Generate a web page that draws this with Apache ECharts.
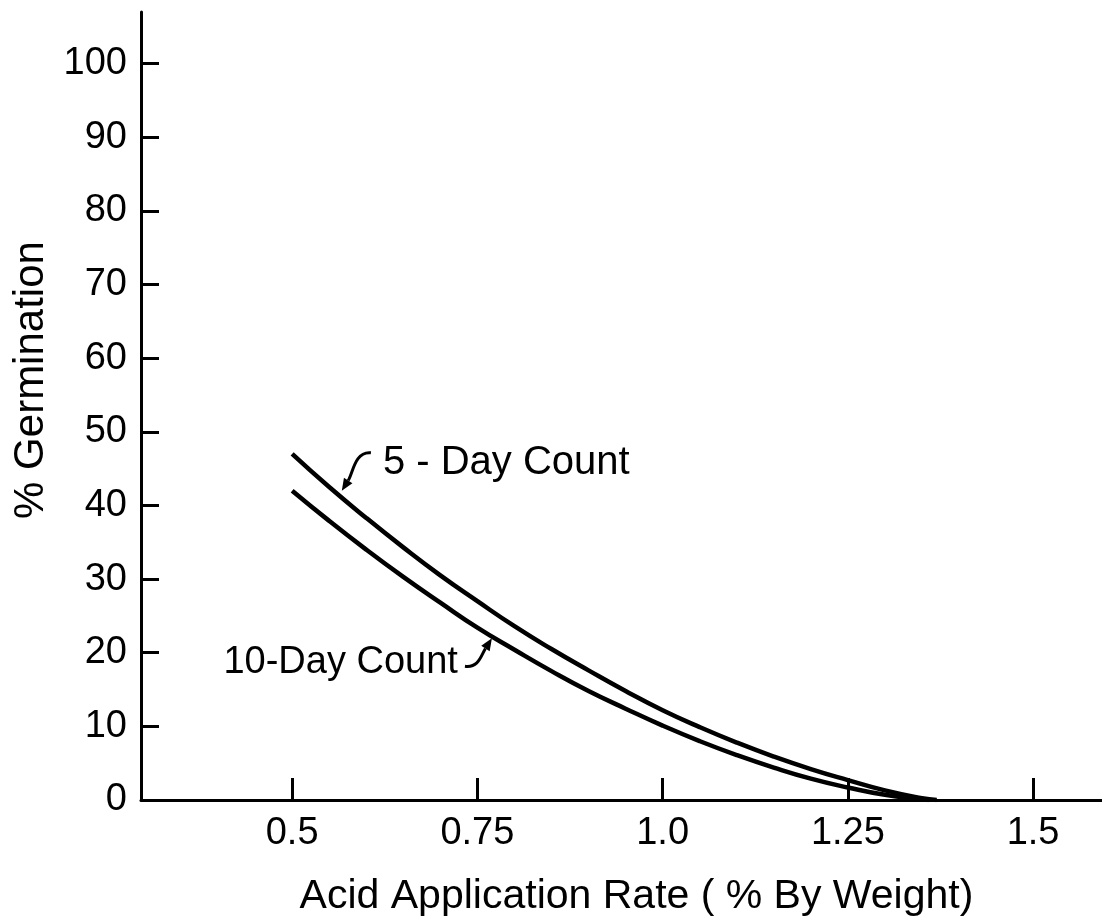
<!DOCTYPE html>
<html>
<head>
<meta charset="utf-8">
<script src="https://cdn.jsdelivr.net/npm/echarts@6/dist/echarts.min.js"></script>
<style>
html,body{margin:0;padding:0;background:#fff;}
#chart{width:1102px;height:922px;}
</style>
</head>
<body>
<div id="chart"></div>
<script>
// ---- data ----
const rate5 = [0.5, 0.55, 0.6, 0.65, 0.7, 0.75, 0.8, 0.85, 0.9, 0.95, 1.0, 1.05, 1.1, 1.15, 1.2, 1.25, 1.3, 1.35, 1.37];
const germ5 = [47, 42.5, 38.3, 34.3, 30.5, 27, 23.6, 20.5, 17.6, 14.8, 12.2, 9.9, 7.8, 5.9, 4.2, 2.7, 1.3, 0.25, 0];
const rate10 = [0.5, 0.55, 0.6, 0.65, 0.7, 0.75, 0.8, 0.85, 0.9, 0.95, 1.0, 1.05, 1.1, 1.15, 1.2, 1.25, 1.3, 1.35, 1.36];
const germ10 = [42, 37.9, 34, 30.3, 26.8, 23.4, 20.4, 17.5, 14.8, 12.4, 10.1, 8.0, 6.1, 4.4, 2.9, 1.7, 0.7, 0.1, 0];
const xTicks = [0.5, 0.75, 1.0, 1.25, 1.5];
const xTickLabels = ['0.5', '0.75', '1.0', '1.25', '1.5'];
const yTicks = [0, 10, 20, 30, 40, 50, 60, 70, 80, 90, 100];
const seriesNames = ['5 - Day Count', '10-Day Count'];
const xTitle = 'Acid Application Rate ( % By Weight)';
const yTitle = '% Germination';
// annotation anchors in data space
const label5At = [0.6225, 45.8];
const arrow5 = [[0.6063, 47.15], [0.5847, 47.4], [0.582, 44.4], [0.567, 42.0]];
const label10At = [0.7237, 18.7];
const arrow10 = [[0.7332, 18.16], [0.752, 17.9], [0.755, 19.65], [0.7696, 21.95]];

const FONT = 'Liberation Sans';
const chart = echarts.init(document.getElementById('chart'), null, {renderer: 'canvas'});

const zip = (xs, ys) => xs.map((x, i) => [x, ys[i]]);

chart.setOption({
  animation: false,
  backgroundColor: '#fff',
  grid: {left: 141, right: 0, top: 12, bottom: 122, containLabel: false},
  xAxis: {
    type: 'value', min: 0.296, max: 1.593,
    name: xTitle, nameLocation: 'middle', nameGap: 76,
    nameTextStyle: {fontFamily: FONT, fontSize: 41, color: '#000', padding: [0, 0, 0, 30]},
    axisLine: {show: true, lineStyle: {color: '#000', width: 3}},
    axisTick: {show: true, inside: true, length: 22, lineStyle: {color: '#000', width: 3}, customValues: xTicks},
    axisLabel: {
      fontFamily: FONT, fontSize: 38, color: '#000', margin: 15,
      customValues: xTicks,
      formatter: v => { const i = xTicks.findIndex(t => Math.abs(t - v) < 1e-9); return i >= 0 ? xTickLabels[i] : ''; }
    },
    splitLine: {show: false}
  },
  yAxis: {
    type: 'value', min: 0, max: 107,
    name: yTitle, nameLocation: 'middle', nameGap: 88, nameRotate: 90,
    nameTextStyle: {fontFamily: FONT, fontSize: 42, color: '#000', padding: [0, 0, 0, 52]},
    axisLine: {show: true, lineStyle: {color: '#000', width: 3}},
    axisTick: {show: true, inside: true, length: 18, lineStyle: {color: '#000', width: 3}, customValues: yTicks},
    axisLabel: {fontFamily: FONT, fontSize: 38, color: '#000', margin: 14, customValues: yTicks},
    splitLine: {show: false}
  },
  series: [
    {name: seriesNames[0], type: 'line', data: zip(rate5, germ5), smooth: 0.5, symbol: 'none',
     lineStyle: {color: '#000', width: 4.5}},
    {name: seriesNames[1], type: 'line', data: zip(rate10, germ10), smooth: 0.5, symbol: 'none',
     lineStyle: {color: '#000', width: 4.5}}
  ]
});

function px(p) { return chart.convertToPixel({gridIndex: 0}, p); }
function arrowGraphic(pts) {
  const p = pts.map(px);
  const head = p[3], prev = p[2];
  const ang = Math.atan2(head[1] - prev[1], head[0] - prev[0]);
  const L = 12, W = 5;
  const bx = head[0] - L * Math.cos(ang), by = head[1] - L * Math.sin(ang);
  const nx = -Math.sin(ang) * W, ny = Math.cos(ang) * W;
  return [
    {type: 'bezierCurve', shape: {x1: p[0][0], y1: p[0][1], cpx1: p[1][0], cpy1: p[1][1], cpx2: p[2][0], cpy2: p[2][1], x2: bx, y2: by},
     style: {stroke: '#000', lineWidth: 3, fill: null}},
    {type: 'polygon', shape: {points: [[head[0], head[1]], [bx + nx, by + ny], [bx - nx, by - ny]]},
     style: {fill: '#000'}}
  ];
}
const l5 = px(label5At), l10 = px(label10At);
chart.setOption({
  graphic: [
    {type: 'text', x: l5[0], y: l5[1], style: {text: seriesNames[0], fontFamily: FONT, fontSize: 40, fill: '#000', align: 'left', verticalAlign: 'middle'}},
    {type: 'text', x: l10[0], y: l10[1], style: {text: seriesNames[1], fontFamily: FONT, fontSize: 38, fill: '#000', align: 'right', verticalAlign: 'middle'}},
    ...arrowGraphic(arrow5),
    ...arrowGraphic(arrow10)
  ]
});
</script>
</body>
</html>
